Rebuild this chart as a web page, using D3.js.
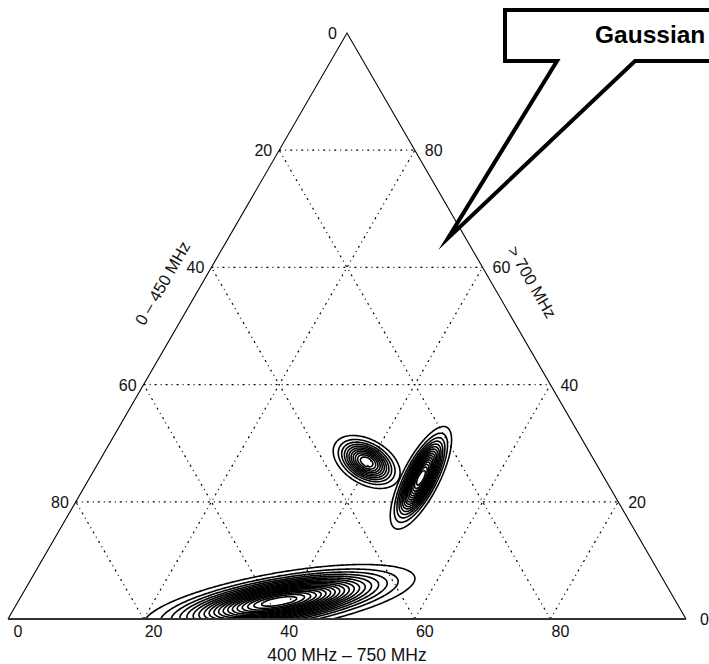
<!DOCTYPE html>
<html>
<head>
<meta charset="utf-8">
<script src="https://cdn.jsdelivr.net/npm/d3@7"></script>
<style>
  body { margin: 0; background: #fff; }
  svg { display: block; }
</style>
</head>
<body>
<script>
// Tick values shown on each edge of the triangle
const bottomTicks = [0, 20, 40, 60, 80];
const leftTicks = [0, 20, 40, 60, 80];
const rightTicks = [0, 20, 40, 60, 80];
const gridLevels = [20, 40, 60, 80];

// Gaussian components: centre (bottom-axis value, left-axis level),
// spread along the principal axes (bottom-axis units), tilt (deg), peak height
const compCenterB = [52.9, 60.9, 40.0];
const compCenterL = [73.2, 75.9, 97.0];
const compSigmaMajor = [2.41, 3.52, 8.3];
const compSigmaMinor = [1.47, 1.15, 1.72];
const compTilt = [30, -63, -10];
const compPeak = [12, 17, 20];
const contourLevels = [1, 2, 3, 4, 5, 6, 7, 8, 9, 10, 11, 12, 13, 14, 15, 16, 17, 18, 19];

const bottomTitle = "400 MHz \u2013 750 MHz";
const leftTitle = "0 \u2013 450 MHz";
const rightTitle = "> 700 MHz";
const calloutText = "Gaussian";

const W = 709, H = 664;
const FONT = "'Liberation Sans', Arial, Helvetica, sans-serif";

const svg = d3.select("body").append("svg")
  .attr("width", W).attr("height", H)
  .style("font-family", FONT);

// bottom-axis value -> x, left-axis level (0 at apex, 100 at base) -> y
const x = d3.scaleLinear().domain([0, 100]).range([8, 686]);
const y = d3.scaleLinear().domain([0, 100]).range([33, 619]);

const leftEdge = l => [x(50 - l / 2), y(l)];
const rightEdge = l => [x(50 + l / 2), y(l)];
const basePt = b => [x(b), y(100)];

const apex = leftEdge(0), bl = basePt(0), br = basePt(100);

// clip region
svg.append("defs").append("clipPath").attr("id", "tri")
  .append("path").attr("d", d3.line()([apex, bl, br]) + "Z");

// ---- grid ----
const grid = svg.append("g")
  .attr("fill", "none")
  .attr("stroke", "#000")
  .attr("stroke-width", 1.2)
  .attr("stroke-dasharray", "2,4,1,4");

gridLevels.forEach(l => {
  grid.append("path").attr("d", d3.line()([leftEdge(l), rightEdge(l)]));
});
gridLevels.forEach(b => {
  grid.append("path").attr("d", d3.line()([basePt(b), leftEdge(100 - b)]));
  grid.append("path").attr("d", d3.line()([basePt(b), rightEdge(b)]));
});

// ---- density contours, one set per component ----
const unit = x(1) - x(0);
const step = 1.5;
const nx = Math.ceil(W / step), ny = Math.ceil(H / step);
const gridToPx = d3.geoTransform({
  point(px, py) { this.stream.point(px * step, py * step); }
});
const cpath = d3.geoPath(gridToPx);
const contourLayer = svg.append("g").attr("clip-path", "url(#tri)");

compCenterB.forEach((b, i) => {
  const t = compTilt[i] * Math.PI / 180;
  const cx = x(b), cy = y(compCenterL[i]);
  const sa = compSigmaMajor[i] * unit, sb = compSigmaMinor[i] * unit;
  const c = Math.cos(t), s = Math.sin(t), peak = compPeak[i];
  const values = new Float64Array(nx * ny);
  for (let j = 0; j < ny; j++) {
    const dy = (j + 0.5) * step - cy;
    for (let k = 0; k < nx; k++) {
      const dx = (k + 0.5) * step - cx;
      const u = dx * c + dy * s;
      const w = -dx * s + dy * c;
      values[j * nx + k] = peak * Math.exp(-0.5 * (u * u / (sa * sa) + w * w / (sb * sb)));
    }
  }
  const rings = d3.contours().size([nx, ny])
    .thresholds(contourLevels.filter(v => v < peak))(values);
  contourLayer.append("g")
    .selectAll("path")
    .data(rings)
    .join("path")
    .attr("d", cpath)
    .attr("fill", "none")
    .attr("stroke", "#000")
    .attr("stroke-width", 1.6)
    .attr("stroke-linejoin", "round");
});

// ---- triangle outline ----
svg.append("path")
  .attr("d", d3.line()([bl, apex, br]))
  .attr("fill", "none").attr("stroke", "#000").attr("stroke-width", 1.1);
svg.append("path")
  .attr("d", d3.line()([bl, br]))
  .attr("fill", "none").attr("stroke", "#333").attr("stroke-width", 2);

// ---- tick labels ----
const labels = svg.append("g").attr("font-size", 16).attr("fill", "#111");

labels.selectAll(".tb").data(bottomTicks).join("text")
  .attr("x", d => basePt(d)[0] + 10)
  .attr("y", d => basePt(d)[1] + 18)
  .attr("text-anchor", "middle")
  .text(d => d);

labels.selectAll(".tl").data(leftTicks).join("text")
  .attr("x", d => leftEdge(d)[0] - (d === 0 ? 10 : 7))
  .attr("y", d => leftEdge(d)[1] + 6)
  .attr("text-anchor", "end")
  .text(d => d);

labels.selectAll(".tr").data(rightTicks).join("text")
  .attr("x", d => rightEdge(100 - d)[0] + (d === 0 ? 14 : 10))
  .attr("y", d => rightEdge(100 - d)[1] + 6)
  .attr("text-anchor", "start")
  .text(d => d);

// ---- axis titles ----
svg.append("text")
  .attr("x", x(50)).attr("y", y(100) + 42)
  .attr("text-anchor", "middle").attr("font-size", 17.5).attr("fill", "#111")
  .text(bottomTitle);

svg.append("text")
  .attr("transform", `translate(${x(22.8)},${y(42.7)}) rotate(-60)`)
  .attr("text-anchor", "middle").attr("dy", "0.35em")
  .attr("font-size", 16.5).attr("fill", "#111")
  .text(leftTitle);

svg.append("text")
  .attr("transform", `translate(${x(77.3)},${y(42.5)}) rotate(60)`)
  .attr("text-anchor", "middle").attr("dy", "0.35em")
  .attr("font-size", 16.5).attr("fill", "#111")
  .text(rightTitle);

// ---- callout ----
const tip = [x(64.9), y(35.0)];
const call = svg.append("g");
call.append("path")
  .attr("d", d3.line()([[505, 10], [780, 10], [780, 61], [635, 61], tip, [557, 61], [505, 61]]) + "Z")
  .attr("fill", "#fff").attr("stroke", "#000").attr("stroke-width", 4)
  .attr("stroke-linejoin", "miter").attr("stroke-miterlimit", 10);
call.append("text")
  .attr("x", 595).attr("y", 43)
  .attr("font-size", 24.5).attr("font-weight", "bold").attr("fill", "#000")
  .text(calloutText);
</script>
</body>
</html>
